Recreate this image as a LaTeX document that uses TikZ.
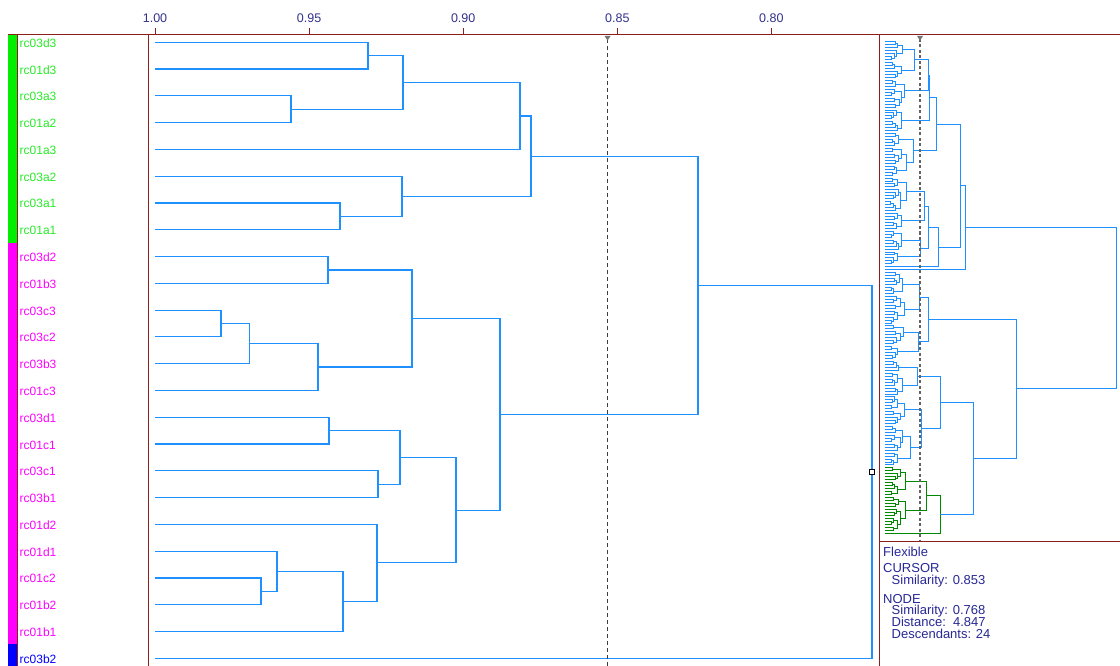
\documentclass[tikz,border=0pt]{standalone}
\usepackage{fontspec}
\setmainfont{Liberation Sans}
\definecolor{dlblue}{RGB}{30,144,255}
\definecolor{ovgreen}{RGB}{0,136,0}
\definecolor{framec}{RGB}{140,30,30}
\definecolor{axtext}{RGB}{50,50,140}
\definecolor{barg}{RGB}{0,240,0}
\definecolor{tgreen}{RGB}{40,235,40}
\definecolor{barm}{RGB}{255,0,255}
\definecolor{barb}{RGB}{0,0,255}
\definecolor{infotext}{RGB}{40,40,150}
\definecolor{curc}{RGB}{60,60,60}
\tikzset{
  dl/.style={draw=dlblue,line width=1.2pt},
  ovblue/.style={draw=dlblue,line width=1pt,line cap=rect},
  ovgr/.style={draw=ovgreen,line width=1pt,line cap=rect},
  ov/.style={ovblue},
  framel/.style={draw=framec,line width=1pt},
  lab/.style={anchor=base west,inner sep=0pt,font=\fontsize{12}{14}\selectfont},
  axl/.style={anchor=base,inner sep=0pt,text=axtext,font=\fontsize{12.5}{14}\selectfont},
  info/.style={anchor=base west,inner sep=0pt,text=infotext,font=\fontsize{13}{15}\selectfont},
  curmain/.style={draw=curc,line width=1pt,dash pattern=on 4pt off 3pt},
  curov/.style={draw=curc!80,line width=2pt,dash pattern=on 3pt off 2.5pt},
  curmark/.style={fill=curc!70,draw=none},
}
% generic overview subtree: first leaf, count, parent x
\newcommand\ovleaves[3]{%
  \ifnum#2=1\relax
    \pgfmathsetmacro\ovy{42+2.958*#1}%
    \draw[ov] (885,\ovy) -- (#3,\ovy);%
    \xdef\ovmid{\ovy}%
  \else
    \pgfmathsetmacro\ovx{min(885+6.2*sqrt(#2)+2*sin(#1*37+#2*23),#3-2.5)}%
    \ovsub{#1}{#2}{\ovx}{#3}%
  \fi}
% overview subtree with own merge x: first, count, own x, parent x
\newcommand\ovsub[4]{%
  \begingroup
  \edef\ovparx{#4}\edef\ovownx{#3}%
  \pgfmathtruncatemacro\ovnl{max(1,min(#2-1,round(#2*(0.5+0.17*sin(#1*53+#2*29)))))}%
  \pgfmathtruncatemacro\ovnr{#2-\ovnl}%
  \pgfmathtruncatemacro\ovfr{#1+\ovnl}%
  \edef\ovnext{\noexpand\ovleaves{#1}{\ovnl}{\ovownx}}\ovnext
  \let\ovyl\ovmid
  \edef\ovnext{\noexpand\ovleaves{\ovfr}{\ovnr}{\ovownx}}\ovnext
  \let\ovyr\ovmid
  \draw[ov] (\ovownx,\ovyl) -- (\ovownx,\ovyr);%
  \pgfmathsetmacro\ovym{(\ovyl+\ovyr)/2}%
  \draw[ov] (\ovownx,\ovym) -- (\ovparx,\ovym);%
  \xdef\ovmid{\ovym}%
  \endgroup}
% explicit join: [horizontal style] x, ya, yb, parent x
\newcommand\ovjoin[5][ov]{%
  \draw[ov] (#2,#3) -- (#2,#4);%
  \pgfmathsetmacro\ovym{(#3+#4)/2}%
  \draw[#1] (#2,\ovym) -- (#5,\ovym);%
  \xdef\ovmid{\ovym}}
\begin{document}
\begin{tikzpicture}[x=1pt,y=-1pt]
\fill[white] (0,0) rectangle (1120,666);
\useasboundingbox (0,0) rectangle (1120,666);

% colour bar
\fill[barg] (8,35) rectangle (17,243);
\fill[barm] (8,243) rectangle (17,644);
\fill[barb] (8,644) rectangle (17,666);

% leaf labels and leaf ends
\foreach \i/\n/\c in {0/rc03d3/tgreen,1/rc01d3/tgreen,2/rc03a3/tgreen,3/rc01a2/tgreen,
  4/rc01a3/tgreen,5/rc03a2/tgreen,6/rc03a1/tgreen,7/rc01a1/tgreen,
  8/rc03d2/barm,9/rc01b3/barm,10/rc03c3/barm,11/rc03c2/barm,12/rc03b3/barm,
  13/rc01c3/barm,14/rc03d1/barm,15/rc01c1/barm,16/rc03c1/barm,17/rc03b1/barm,
  18/rc01d2/barm,19/rc01d1/barm,20/rc01c2/barm,21/rc01b2/barm,22/rc01b1/barm,
  23/rc03b2/barb}{
  \pgfmathsetmacro\yy{42.3+26.78*\i}
  \node[lab,text=\c] (t\i) at (19.5,\yy+5) {\n};
  \coordinate (L\i) at (155,\yy);
}

% main dendrogram merge points
\coordinate (m01) at (368,55.69);
\coordinate (m23) at (291,109.25);
\coordinate (mAa) at (403,82.47);
\coordinate (mA) at (520,115.95);
\coordinate (m67) at (340,216.37);
\coordinate (mB) at (402,196.29);
\coordinate (mG) at (531,156.12);
\coordinate (m89) at (328,269.93);
\coordinate (m1011) at (221,323.49);
\coordinate (m1012) at (249.5,343.58);
\coordinate (m1013) at (318,367.01);
\coordinate (mC) at (412,318.47);
\coordinate (m1415) at (329,430.61);
\coordinate (m1617) at (378,484.17);
\coordinate (mD) at (400,457.39);
\coordinate (m2021) at (261,591.29);
\coordinate (m1921) at (277,571.21);
\coordinate (m1922) at (343,601.33);
\coordinate (mE) at (377,562.84);
\coordinate (mF) at (456,510.11);
\coordinate (mM) at (500,414.29);
\coordinate (mGM) at (698,285.2);
\coordinate (root) at (872,471.72);

\draw[dl] (L0) -| (m01) |- (L1);
\draw[dl] (L2) -| (m23) |- (L3);
\draw[dl] (m01) -| (mAa) |- (m23);
\draw[dl] (mAa) -| (mA) |- (L4);
\draw[dl] (L6) -| (m67) |- (L7);
\draw[dl] (L5) -| (mB) |- (m67);
\draw[dl] (mA) -| (mG) |- (mB);
\draw[dl] (L8) -| (m89) |- (L9);
\draw[dl] (L10) -| (m1011) |- (L11);
\draw[dl] (m1011) -| (m1012) |- (L12);
\draw[dl] (m1012) -| (m1013) |- (L13);
\draw[dl] (m89) -| (mC) |- (m1013);
\draw[dl] (L14) -| (m1415) |- (L15);
\draw[dl] (L16) -| (m1617) |- (L17);
\draw[dl] (m1415) -| (mD) |- (m1617);
\draw[dl] (L20) -| (m2021) |- (L21);
\draw[dl] (L19) -| (m1921) |- (m2021);
\draw[dl] (m1921) -| (m1922) |- (L22);
\draw[dl] (L18) -| (mE) |- (m1922);
\draw[dl] (mD) -| (mF) |- (mE);
\draw[dl] (mC) -| (mM) |- (mF);
\draw[dl] (mG) -| (mGM) |- (mM);
\draw[dl] (mGM) -| (root) |- (L23);
\node[draw=black,fill=white,line width=0.8pt,minimum size=5pt,inner sep=0pt] (rootmark) at (root) {};

% overview dendrogram (upper group)
\ovsub{0}{13}{914}{928}\let\ovya\ovmid
\ovleaves{13}{10}{928}\let\ovyb\ovmid
\ovjoin{928}{\ovya}{\ovyb}{929.5}\let\ovTtwo\ovmid
\ovleaves{23}{8}{929.5}\let\ovyb\ovmid
\ovjoin{929.5}{\ovTtwo}{\ovyb}{936}\let\ovUaa\ovmid
\ovsub{31}{15}{913}{936}\let\ovUab\ovmid
\ovjoin{936}{\ovUaa}{\ovUab}{960}\let\ovUa\ovmid
\ovsub{46}{18}{924}{928}\let\ovya\ovmid
\ovsub{64}{12}{920}{928}\let\ovyb\ovmid
\ovjoin{928}{\ovya}{\ovyb}{938}\let\ovCb\ovmid
\ovleaves{76}{1}{938}\let\ovyb\ovmid
\ovjoin{938}{\ovCb}{\ovyb}{960}\let\ovUb\ovmid
\ovjoin{960}{\ovUa}{\ovUb}{965}\let\ovUone\ovmid
\ovleaves{77}{1}{965}\let\ovyb\ovmid
\ovjoin{965}{\ovUone}{\ovyb}{1116}\let\ovU\ovmid
% lower group
\ovsub{78}{18}{919.7}{928}\let\ovya\ovmid
\ovsub{96}{12}{918.7}{928}\let\ovyb\ovmid
\ovjoin{928}{\ovya}{\ovyb}{1016}\let\ovLone\ovmid
\ovsub{108}{12}{917.3}{940}\let\ovya\ovmid
\ovsub{120}{24}{921.7}{940}\let\ovyb\ovmid
\ovjoin{940}{\ovya}{\ovyb}{973.7}\let\ovLtwoa\ovmid
\tikzset{ov/.style={ovgr}}
\ovsub{144}{22}{926}{940}\let\ovya\ovmid
\ovleaves{166}{1}{940}\let\ovyb\ovmid
\ovjoin[ovblue]{940}{\ovya}{\ovyb}{973.7}\let\ovLtwob\ovmid
\tikzset{ov/.style={ovblue}}
\ovjoin{973.7}{\ovLtwoa}{\ovLtwob}{1016}\let\ovLtwo\ovmid
\ovjoin{1016}{\ovLone}{\ovLtwo}{1116}\let\ovL\ovmid
\draw[ov] (1116,\ovU) -- (1116,\ovL);

% frame
\draw[framel] (8,35) -- (1120,35);
\draw[framel] (17,35) -- (17,666);
\draw[framel] (148,35) -- (148,666);
\draw[framel] (879,35) -- (879,666);
\draw[framel] (879,541) -- (1120,541);

% axis
\foreach \x/\t/\nm in {155/1.00/a0,309.1/0.95/a1,463.2/0.90/a2,617.3/0.85/a3,771.4/0.80/a4}{
  \draw[framel] (\x,28) -- (\x,35);
  \node[axl] (\nm) at (\x,22.7) {\t};
}

% cursors
\draw[curmain] (607.5,39) -- (607.5,666);
\fill[curmark] (604.5,36) -- (610.5,36) -- (607.5,40.5) -- cycle;
\draw[curov] (920,39) -- (920,541);
\fill[curmark] (917,36) -- (923,36) -- (920,40.5) -- cycle;

% info text
\node[info] (i1) at (883,556) {Flexible};
\node[info] (i2) at (883,572.3) {CURSOR};
\node[info] (i3) at (891.5,584.5) {Similarity: 0.853};
\node[info] (i4) at (883,603) {NODE};
\node[info] (i5) at (891.5,614) {Similarity: 0.768};
\node[info] (i6) at (891.5,626.5) {Distance:~~4.847};
\node[info] (i7) at (891.5,638.8) {Descendants: 24};
\end{tikzpicture}
\end{document}
